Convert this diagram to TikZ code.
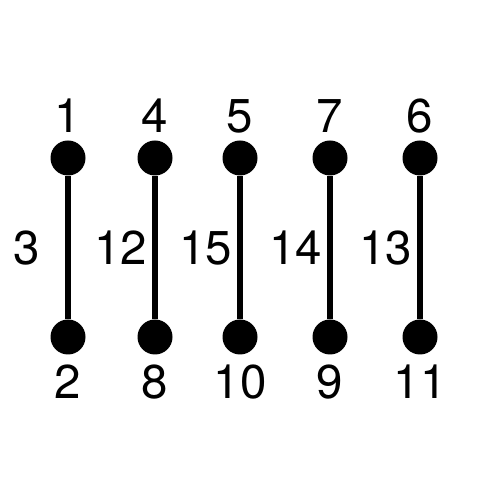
\documentclass[tikz,border=0pt]{standalone}
\usepackage{fontspec}
\setmainfont{TeX Gyre Heros}
\usetikzlibrary{positioning}

\begin{document}
\begin{tikzpicture}[auto]
    \tikzstyle{vertex}=[circle,fill=black,draw=none,minimum size=0.7cm,inner sep=0pt]
    \tikzstyle{up}=[label={[num,yshift=0.14cm]above:#1}]
    \tikzstyle{down}=[label={[num,yshift=-0.19cm]below:#1}]
    \tikzstyle{num}=[inner sep=0pt,text depth=0pt,font=\fontsize{27}{32}\selectfont]
    \tikzstyle{edge}=[line width=3pt]
    \tikzstyle{weight}=[num,left,midway,inner xsep=0.1cm]
    \useasboundingbox (0,0) rectangle (10,10);
    % top row
    \node (v1) at (1.36,6.84) [vertex,up=1] {};
    \node (v4) at (3.10,6.84) [vertex,up=4] {};
    \node (v5) at (4.80,6.84) [vertex,up=5] {};
    \node (v7) at (6.60,6.84) [vertex,up=7] {};
    \node (v6) at (8.40,6.84) [vertex,up=6] {};
    % bottom row
    \node (v2)  at (1.36,3.26) [vertex,down=2]  {};
    \node (v8)  at (3.10,3.26) [vertex,down=8]  {};
    \node (v10) at (4.80,3.26) [vertex,down=10] {};
    \node (v9)  at (6.60,3.26) [vertex,down=9]  {};
    \node (v11) at (8.40,3.26) [vertex,down=11] {};
    % edges
    \draw [edge] (v1) -- node [weight,xshift=-0.4cm] {3} (v2);
    \draw [edge] (v4) -- node [weight] {12} (v8);
    \draw [edge] (v5) -- node [weight] {15} (v10);
    \draw [edge] (v7) -- node [weight] {14} (v9);
    \draw [edge] (v6) -- node [weight] {13} (v11);
\end{tikzpicture}
\end{document}
